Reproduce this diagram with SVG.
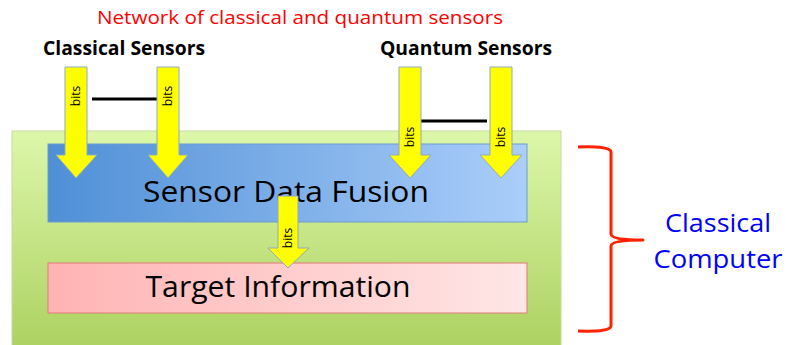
<svg xmlns="http://www.w3.org/2000/svg" width="786" height="345" viewBox="0 0 786 345">
<defs>
<linearGradient id="gGreen" x1="0" y1="0" x2="0" y2="1">
<stop offset="0" stop-color="#ddf7aa"/>
<stop offset="1" stop-color="#acd160"/>
</linearGradient>
<linearGradient id="gBlue" x1="0" y1="0" x2="1" y2="0">
<stop offset="0" stop-color="#4f8fd6"/>
<stop offset="1" stop-color="#abcefa"/>
</linearGradient>
<linearGradient id="gPink" x1="0" y1="0" x2="1" y2="0">
<stop offset="0" stop-color="#ffb3b3"/>
<stop offset="1" stop-color="#ffe6e6"/>
</linearGradient>
</defs>
<style>
.arrow{fill:#ffff00;stroke:#8fa9c6;stroke-width:1}
.bits{font-family:"Open Sans","Liberation Sans",sans-serif;font-size:12px;fill:#000}
.hdr{font-family:"Open Sans","Liberation Sans",sans-serif;font-weight:bold;font-size:19px;fill:#000}
.big{font-family:"Open Sans","Liberation Sans",sans-serif;font-size:30px;fill:#000}
.link{stroke:#000;stroke-width:3}
</style>
<rect width="786" height="345" fill="#ffffff"/>
<g id="computer">
<rect x="12" y="131" width="549" height="220" fill="url(#gGreen)" stroke="#c6dc9a" stroke-width="1"/>
</g>
<g id="fusion">
<rect x="48" y="144" width="479" height="78" fill="url(#gBlue)" stroke="#6b9bd1" stroke-width="1"/>
<text class="big" x="286" y="202" text-anchor="middle" textLength="286" lengthAdjust="spacingAndGlyphs">Sensor Data Fusion</text>
</g>
<g id="target">
<rect x="48" y="263" width="479" height="50" fill="url(#gPink)" stroke="#e07b7b" stroke-width="1"/>
<text class="big" x="278" y="297" text-anchor="middle" textLength="265" lengthAdjust="spacingAndGlyphs">Target Information</text>
</g>
<g id="title">
<text x="300" y="24" text-anchor="middle" font-family="'Open Sans','Liberation Sans',sans-serif" font-size="19" fill="#ff0000" textLength="406" lengthAdjust="spacingAndGlyphs">Network of classical and quantum sensors</text>
</g>
<g id="classical-sensors">
<text class="hdr" x="124" y="55" text-anchor="middle" textLength="162" lengthAdjust="spacingAndGlyphs">Classical Sensors</text>
</g>
<g id="quantum-sensors">
<text class="hdr" x="466" y="55" text-anchor="middle" textLength="172" lengthAdjust="spacingAndGlyphs">Quantum Sensors</text>
</g>
<g id="classical-computer">
<path d="M578,147 Q611,146 611,152 L611,234 Q611,240 643,240 Q611,240 611,246 L611,326 Q611,332 578,331" fill="none" stroke="#ff2200" stroke-width="3" stroke-linejoin="round"/>
<text x="718" y="232" text-anchor="middle" font-family="'Open Sans','Liberation Sans',sans-serif" font-size="26" fill="#0000ff" textLength="106" lengthAdjust="spacingAndGlyphs">Classical</text>
<text x="718" y="268" text-anchor="middle" font-family="'Open Sans','Liberation Sans',sans-serif" font-size="26" fill="#0000ff" textLength="129" lengthAdjust="spacingAndGlyphs">Computer</text>
</g>
<g id="connectors">
<line class="link" x1="92" y1="99" x2="157" y2="99"/>
<line class="link" x1="421" y1="121" x2="487" y2="121"/>
<g id="arrow-c1">
<path class="arrow" d="M65,67 H87 V155 H97 L76,178 L56,155 H65 Z"/>
<text class="bits" transform="translate(80,96) rotate(-90)" text-anchor="middle">bits</text>
</g>
<g id="arrow-c2">
<path class="arrow" d="M157,67 H179 V155 H188 L168,178 L148,155 H157 Z"/>
<text class="bits" transform="translate(172,96) rotate(-90)" text-anchor="middle">bits</text>
</g>
<g id="arrow-q1">
<path class="arrow" d="M399,67 H421 V155 H431 L410,178 L389,155 H399 Z"/>
<text class="bits" transform="translate(414,137) rotate(-90)" text-anchor="middle">bits</text>
</g>
<g id="arrow-q2">
<path class="arrow" d="M490,67 H512 V155 H522 L501,178 L480,155 H490 Z"/>
<text class="bits" transform="translate(505,137) rotate(-90)" text-anchor="middle">bits</text>
</g>
<g id="arrow-mid">
<path class="arrow" d="M278,196 H298 V248 H309 L288,268 L268,248 H278 Z"/>
<text class="bits" transform="translate(292,238) rotate(-90)" text-anchor="middle">bits</text>
</g>
</g>
</svg>
